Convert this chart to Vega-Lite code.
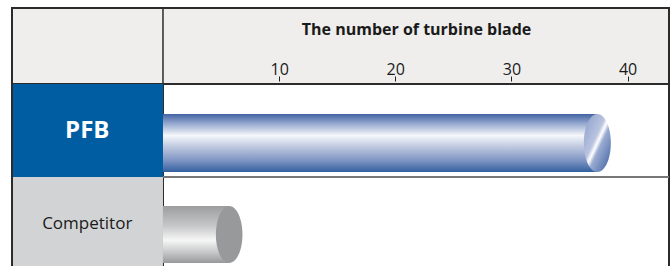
{
  "$schema": "https://vega.github.io/schema/vega-lite/v6.json",
  "padding": {"left": 11, "top": 6, "right": 0, "bottom": 0},
  "spacing": 0,
  "bounds": "flush",
  "config": {"view": {"stroke": null}, "font": "Open Sans"},
  "vconcat": [
    {
      "width": 657,
      "height": 76,
      "view": {"fill": "#efeeec", "stroke": "#2b2b2b", "strokeWidth": 2},
      "data": {"values": [{"v": 0}]},
      "mark": {"type": "rule", "color": "#2b2b2b", "strokeWidth": 1.5},
      "encoding": {
        "x": {
          "field": "v",
          "type": "quantitative",
          "scale": {"domain": [-13, 43.57], "nice": false, "zero": false},
          "axis": {
            "orient": "top",
            "offset": -73,
            "values": [10, 20, 30, 40],
            "domain": false,
            "grid": false,
            "tickSize": 5,
            "tickColor": "#222222",
            "tickWidth": 1,
            "labelFontSize": 16,
            "labelColor": "#1a1a1a",
            "labelBaseline": "alphabetic",
            "labelPadding": 2,
            "title": "The number of turbine blade",
            "titleFontSize": 16,
            "titleFontWeight": "bold",
            "titleColor": "#1a1a1a",
            "titleX": 404,
            "titleY": -47,
            "titleAlign": "center",
            "titleBaseline": "alphabetic"
          }
        }
      }
    },
    {
      "width": 657,
      "height": 186,
      "data": {"values": [
        {"group": "PFB", "count": 37.4},
        {"group": "Competitor", "count": 5.7}
      ]},
      "layer": [
        {
          "mark": {"type": "rect", "fill": "#ffffff", "stroke": "#2b2b2b", "strokeWidth": 2},
          "encoding": {
            "y": {"field": "group", "type": "nominal", "sort": ["PFB", "Competitor"], "scale": {"paddingInner": 0, "paddingOuter": 0}, "axis": null},
            "x": {"datum": 0, "type": "quantitative", "scale": {"domain": [-13, 43.57], "nice": false, "zero": false}, "axis": null},
            "x2": {"datum": 43.57}
          }
        },
        {
          "mark": {"type": "rect"},
          "encoding": {
            "y": {"field": "group", "type": "nominal", "sort": ["PFB", "Competitor"]},
            "x": {"datum": -13, "type": "quantitative"},
            "x2": {"datum": 0},
            "color": {"field": "group", "type": "nominal", "scale": {"domain": ["PFB", "Competitor"], "range": ["#005da2", "#d2d3d5"]}, "legend": null}
          }
        },
        {
          "mark": {"type": "rule", "color": "#2b2b2b", "strokeWidth": 2},
          "encoding": {"x": {"datum": -13, "type": "quantitative"}}
        },
        {
          "transform": [{"filter": "datum.group === 'Competitor'"}],
          "mark": {"type": "rule", "color": "#777777", "strokeWidth": 2},
          "encoding": {
            "y": {"field": "group", "type": "nominal", "sort": ["PFB", "Competitor"], "bandPosition": 0},
            "x": {"datum": 0, "type": "quantitative"},
            "x2": {"datum": 43.57}
          }
        },
        {
          "transform": [{"filter": "datum.group === 'PFB'"}],
          "mark": {"type": "text", "color": "#ffffff", "fontSize": 24, "fontWeight": "bold", "baseline": "middle", "align": "center"},
          "encoding": {
            "y": {"field": "group", "type": "nominal", "sort": ["PFB", "Competitor"]},
            "x": {"datum": -6.52, "type": "quantitative"},
            "text": {"field": "group"}
          }
        },
        {
          "transform": [{"filter": "datum.group === 'Competitor'"}],
          "mark": {"type": "text", "color": "#1a1a1a", "fontSize": 17, "baseline": "middle", "align": "center"},
          "encoding": {
            "y": {"field": "group", "type": "nominal", "sort": ["PFB", "Competitor"]},
            "x": {"datum": -6.52, "type": "quantitative"},
            "text": {"field": "group"}
          }
        },
        {
          "transform": [{"filter": "datum.group === 'PFB'"}],
          "mark": {
            "type": "bar",
            "height": {"band": 0.624},
            "yOffset": 12.5,
            "color": {
              "gradient": "linear", "x1": 0, "y1": 0, "x2": 0, "y2": 1,
              "stops": [
                {"offset": 0, "color": "#4264a3"},
                {"offset": 0.15, "color": "#8ea2cb"},
                {"offset": 0.37, "color": "#f5f7fb"},
                {"offset": 0.55, "color": "#c3cce2"},
                {"offset": 0.8, "color": "#7f95c3"},
                {"offset": 1, "color": "#33609f"}
              ]
            }
          },
          "encoding": {
            "y": {"field": "group", "type": "nominal", "sort": ["PFB", "Competitor"]},
            "x": {"field": "count", "type": "quantitative"},
            "x2": {"datum": 0}
          }
        },
        {
          "transform": [{"filter": "datum.group === 'PFB'"}],
          "mark": {
            "type": "point",
            "filled": true,
            "opacity": 1,
            "size": 3364,
            "yOffset": 12.5,
            "shape": "M0,-1A0.466,1,0,1,1,0,1A0.466,1,0,1,1,0,-1Z",
            "color": {
              "gradient": "linear", "x1": 0, "y1": 0, "x2": 1, "y2": 1,
              "stops": [
                {"offset": 0, "color": "#8a9dca"},
                {"offset": 0.42, "color": "#b9c4df"},
                {"offset": 0.5, "color": "#ffffff"},
                {"offset": 0.58, "color": "#9aabd2"},
                {"offset": 1, "color": "#3a5f9f"}
              ]
            }
          },
          "encoding": {
            "y": {"field": "group", "type": "nominal", "sort": ["PFB", "Competitor"]},
            "x": {"field": "count", "type": "quantitative"}
          }
        },
        {
          "transform": [{"filter": "datum.group === 'Competitor'"}],
          "mark": {
            "type": "bar",
            "height": {"band": 0.613},
            "yOffset": 11,
            "color": {
              "gradient": "linear", "x1": 0, "y1": 0, "x2": 0, "y2": 1,
              "stops": [
                {"offset": 0, "color": "#9c9d9f"},
                {"offset": 0.35, "color": "#c6c7c8"},
                {"offset": 0.6, "color": "#f6f6f6"},
                {"offset": 0.8, "color": "#c9cacb"},
                {"offset": 1, "color": "#98999b"}
              ]
            }
          },
          "encoding": {
            "y": {"field": "group", "type": "nominal", "sort": ["PFB", "Competitor"]},
            "x": {"field": "count", "type": "quantitative"},
            "x2": {"datum": 0}
          }
        },
        {
          "transform": [{"filter": "datum.group === 'Competitor'"}],
          "mark": {
            "type": "point",
            "filled": true,
            "opacity": 1,
            "size": 3249,
            "yOffset": 11,
            "shape": "M0,-1A0.466,1,0,1,1,0,1A0.466,1,0,1,1,0,-1Z",
            "color": "#98999b"
          },
          "encoding": {
            "y": {"field": "group", "type": "nominal", "sort": ["PFB", "Competitor"]},
            "x": {"field": "count", "type": "quantitative"}
          }
        }
      ]
    }
  ]
}
